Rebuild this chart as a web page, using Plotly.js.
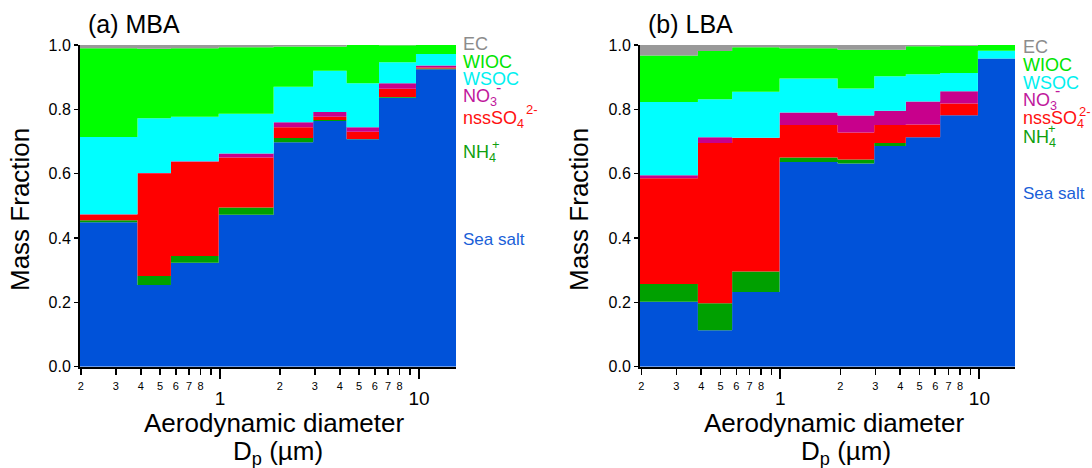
<!DOCTYPE html>
<html>
<head>
<meta charset="utf-8">
<script src="https://cdn.plot.ly/plotly-3.0.1.min.js"></script>
<style>html,body{margin:0;padding:0;background:#fff;}#chart{width:1092px;height:468px;}</style>
</head>
<body>
<div id="chart"></div>
<script>
// ---- Data (mass fractions per impactor stage) ----
const edgesA = [0.198, 0.385, 0.567, 0.985, 1.86, 2.94, 4.33, 6.3, 9.66, 15.35];
const edgesB = [0.197, 0.385, 0.572, 0.99, 1.94, 2.96, 4.27, 6.35, 9.83, 15.1];

const seaSaltA = [0.449, 0.254, 0.323, 0.472, 0.698, 0.764, 0.707, 0.836, 0.925];
const nh4A     = [0.006, 0.028, 0.021, 0.023, 0.013, 0.003, 0.001, 0.002, 0.002];
const nssSO4A  = [0.018, 0.319, 0.293, 0.155, 0.033, 0.010, 0.022, 0.026, 0.003];
const no3A     = [0.001, 0.001, 0.002, 0.013, 0.016, 0.015, 0.014, 0.017, 0.006];
const wsocA    = [0.240, 0.170, 0.138, 0.123, 0.110, 0.128, 0.137, 0.065, 0.036];
const wiocA    = [0.276, 0.216, 0.213, 0.207, 0.125, 0.075, 0.119, 0.053, 0.028];
const ecA      = [0.010, 0.012, 0.010, 0.007, 0.005, 0.005, 0.000, 0.001, 0.000];

const seaSaltB = [0.202, 0.113, 0.232, 0.636, 0.632, 0.686, 0.713, 0.782, 0.958];
const nh4B     = [0.055, 0.084, 0.064, 0.014, 0.012, 0.009, 0.000, 0.000, 0.000];
const nssSO4B  = [0.329, 0.498, 0.415, 0.101, 0.084, 0.056, 0.040, 0.036, 0.000];
const no3B     = [0.009, 0.018, 0.001, 0.039, 0.053, 0.045, 0.071, 0.038, 0.000];
const wsocB    = [0.228, 0.118, 0.143, 0.106, 0.084, 0.107, 0.085, 0.057, 0.024];
const wiocB    = [0.144, 0.150, 0.138, 0.094, 0.120, 0.082, 0.087, 0.085, 0.018];
const ecB      = [0.033, 0.019, 0.007, 0.010, 0.015, 0.015, 0.004, 0.002, 0.000];

const componentNames = ['Sea salt', 'NH4+', 'nssSO4 2-', 'NO3-', 'WSOC', 'WIOC', 'EC'];
const minorTickVals = [0.2,0.3,0.4,0.5,0.6,0.7,0.8,0.9,2,3,4,5,6,7,8,9];
const minorTickText = ['2','3','4','5','6','7','8','','2','3','4','5','6','7','8',''];
const majorTickVals = [1, 10];
const majorTickText = ['1', '10'];
const yTickVals = [0, 0.2, 0.4, 0.6, 0.8, 1.0];
const yTickText = ['0.0', '0.2', '0.4', '0.6', '0.8', '1.0'];

// ---- Styles ----
const W = 1092, H = 468;
const FONT = 'Liberation Sans, Arial, Helvetica, sans-serif';
const fillColors = ['#0052D9', '#00A000', '#FF0000', '#C8008C', '#00FFFF', '#00FF00', '#999999'];

function stepY(v) { return v.concat([v[v.length - 1]]); }

function panelTraces(edges, series, group, xa, ya) {
  return series.map((vals, i) => ({
    type: 'scatter', mode: 'lines', x: edges, y: stepY(vals),
    line: { width: 0, shape: 'hv' }, fillcolor: fillColors[i],
    stackgroup: group, xaxis: xa, yaxis: ya, name: componentNames[i],
    hoverinfo: 'skip', showlegend: false
  }));
}

const traces = [].concat(
  panelTraces(edgesA, [seaSaltA, nh4A, nssSO4A, no3A, wsocA, wiocA, ecA], 'a', 'x', 'y'),
  panelTraces(edgesB, [seaSaltB, nh4B, nssSO4B, no3B, wsocB, wiocB, ecB], 'b', 'x2', 'y2')
);

const yDom = [(H - 366.7) / H, (H - 45) / H];
const rangeA = [Math.log10(edgesA[0]), Math.log10(edgesA[edgesA.length - 1])];
const rangeB = [Math.log10(edgesB[0]), Math.log10(edgesB[edgesB.length - 1])];

function minorX(domain, range, anchor) {
  return { domain: domain, type: 'log', range: range, anchor: anchor,
    showline: true, linecolor: 'black', linewidth: 2, mirror: false,
    ticks: 'outside', tickvals: minorTickVals, ticktext: minorTickText,
    ticklen: 6, tickwidth: 1.5, tickcolor: 'black', ticklabelstandoff: 2,
    tickfont: { family: FONT, size: 11, color: 'black' },
    showgrid: false, zeroline: false, fixedrange: true };
}
function majorX(over, range, anchor) {
  return { overlaying: over, type: 'log', range: range, anchor: anchor,
    showline: false, ticks: 'outside', tickvals: majorTickVals, ticktext: majorTickText,
    ticklen: 11, tickwidth: 2, tickcolor: 'black', ticklabelstandoff: 3,
    tickfont: { family: FONT, size: 19, color: 'black' },
    showgrid: false, zeroline: false, fixedrange: true };
}
function yAx(anchor) {
  return { domain: yDom, range: [0, 1], anchor: anchor,
    showline: true, linecolor: 'black', linewidth: 2,
    ticks: 'outside', ticklen: 4, tickwidth: 1.5, tickcolor: 'black',
    tickvals: yTickVals, ticktext: yTickText,
    tickfont: { family: FONT, size: 16, color: 'black' },
    showgrid: false, zeroline: false, fixedrange: true };
}

function ann(px, py, text, size, color, opts) {
  return Object.assign({ xref: 'paper', yref: 'paper', x: px / W, y: 1 - py / H,
    text: text, showarrow: false, xanchor: 'left', yanchor: 'middle',
    font: { family: FONT, size: size, color: color } }, opts || {});
}

const labelColors = { EC: '#8C8C8C', WIOC: '#00E400', WSOC: '#00F0F0', NO3: '#C0189C', SO4: '#FF1010', NH4: '#10A010', SS: '#1A5FD8' };

function sideLabels(x0, ys, sup) {
  return [
    ann(x0, ys[0], 'EC', 18, labelColors.EC),
    ann(x0, ys[1], 'WIOC', 18, labelColors.WIOC),
    ann(x0, ys[2], 'WSOC', 18, labelColors.WSOC),
    ann(x0, ys[3], 'NO<sub>3</sub>', 18, labelColors.NO3),
    ann(sup[0][0], sup[0][1], '-', 16, labelColors.NO3, { xanchor: 'center' }),
    ann(x0, ys[4], 'nssSO<sub>4</sub>', 18, labelColors.SO4),
    ann(sup[1][0], sup[1][1], '2-', 13, labelColors.SO4, { xanchor: 'center' }),
    ann(x0, ys[5], 'NH<sub>4</sub>', 18, labelColors.NH4),
    ann(sup[2][0], sup[2][1], '+', 13, labelColors.NH4, { xanchor: 'center' }),
    ann(x0, ys[6], 'Sea salt', 17, labelColors.SS)
  ];
}

const annotations = [].concat(
  [
    ann(86, 24, '(a) MBA', 25, 'black'),
    ann(646, 24, '(b) LBA', 25, 'black'),
    ann(20, 210, 'Mass Fraction', 26, 'black', { xanchor: 'center', textangle: -90 }),
    ann(579, 210, 'Mass Fraction', 26, 'black', { xanchor: 'center', textangle: -90 }),
    ann(274, 423, 'Aerodynamic diameter', 26, 'black', { xanchor: 'center' }),
    ann(278, 452, 'D<sub>p</sub> (µm)', 26, 'black', { xanchor: 'center' }),
    ann(834, 423, 'Aerodynamic diameter', 26, 'black', { xanchor: 'center' }),
    ann(846, 452, 'D<sub>p</sub> (µm)', 26, 'black', { xanchor: 'center' })
  ],
  sideLabels(461, [44, 62, 79, 97, 120, 154, 240], [[498, 87], [532, 109], [496, 144]]),
  sideLabels(1021, [47, 65, 83, 101, 120, 138, 193], [[1057, 91], [1085, 111], [1052, 128]])
);

const layout = {
  width: W, height: H, margin: { l: 0, r: 0, t: 0, b: 0 },
  paper_bgcolor: 'white', plot_bgcolor: 'white', showlegend: false,
  font: { family: FONT, color: 'black' },
  xaxis: minorX([80 / W, 456 / W], rangeA, 'y'),
  xaxis3: majorX('x', rangeA, 'y'),
  yaxis: yAx('x'),
  xaxis2: minorX([640 / W, 1015 / W], rangeB, 'y2'),
  xaxis4: majorX('x2', rangeB, 'y2'),
  yaxis2: yAx('x2'),
  annotations: annotations
};

// invisible anchors so the overlay (major-tick) axes are drawn
traces.push({ type: 'scatter', x: [1], y: [0], xaxis: 'x3', yaxis: 'y', mode: 'markers', marker: { opacity: 0 }, hoverinfo: 'skip', showlegend: false });
traces.push({ type: 'scatter', x: [1], y: [0], xaxis: 'x4', yaxis: 'y2', mode: 'markers', marker: { opacity: 0 }, hoverinfo: 'skip', showlegend: false });

Plotly.newPlot('chart', traces, layout, { staticPlot: true, displayModeBar: false });
</script>
</body>
</html>
